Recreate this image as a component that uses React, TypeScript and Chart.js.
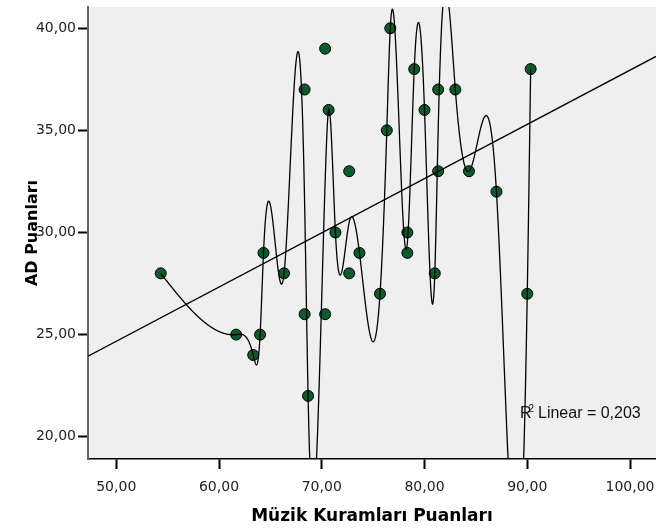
import React, { useEffect, useRef } from "react";
import { Chart, registerables } from "chart.js";

Chart.register(...registerables);

// Data (Müzik Kuramları Puanları vs AD Puanları)
const muzikScores = [
  54.33, 61.67, 63.33, 64.0, 64.33, 66.33, 68.33, 68.33, 68.67, 70.33, 70.33,
  70.67, 71.33, 72.67, 72.67, 73.67, 75.67, 76.33, 76.67, 78.33, 78.33, 79.0,
  80.0, 81.0, 81.33, 81.33, 83.0, 84.33, 87.0, 90.0, 90.33,
];
const adScores = [
  28, 25, 24, 25, 29, 28, 37, 26, 22, 39, 26, 36, 30, 33, 28, 29, 27, 35, 40,
  30, 29, 38, 36, 28, 37, 33, 37, 33, 32, 27, 38,
];
const xTickValues = [50, 60, 70, 80, 90, 100];
const yTickValues = [20, 25, 30, 35, 40];
const xRange = [47.25, 102.53];
const yRange = [18.91, 41.04];
const xTitle = "Müzik Kuramları Puanları";
const yTitle = "AD Puanları";
const r2Value = "0,203";

const fmt = (v: number) => Number(v).toFixed(2).replace(".", ",");

function buildSpline() {
  // group duplicate x values (mean y), then natural cubic spline
  const map = new Map<number, number[]>();
  muzikScores.forEach((x, i) => {
    if (!map.has(x)) map.set(x, []);
    map.get(x)!.push(adScores[i]);
  });
  const xs = Array.from(map.keys()).sort((a, b) => a - b);
  const ys = xs.map((x) => {
    const arr = map.get(x)!;
    return arr.reduce((s, v) => s + v, 0) / arr.length;
  });
  const n = xs.length;
  const h: number[] = [];
  for (let i = 0; i < n - 1; i++) h.push(xs[i + 1] - xs[i]);
  const a: number[] = new Array(n).fill(0);
  const b: number[] = new Array(n).fill(1);
  const c: number[] = new Array(n).fill(0);
  const d: number[] = new Array(n).fill(0);
  for (let i = 1; i < n - 1; i++) {
    a[i] = h[i - 1];
    b[i] = 2 * (h[i - 1] + h[i]);
    c[i] = h[i];
    d[i] = 6 * ((ys[i + 1] - ys[i]) / h[i] - (ys[i] - ys[i - 1]) / h[i - 1]);
  }
  const cp = new Array(n).fill(0);
  const dp = new Array(n).fill(0);
  cp[0] = c[0] / b[0];
  dp[0] = d[0] / b[0];
  for (let i = 1; i < n; i++) {
    const m = b[i] - a[i] * cp[i - 1];
    cp[i] = c[i] / m;
    dp[i] = (d[i] - a[i] * dp[i - 1]) / m;
  }
  const M = new Array(n).fill(0);
  M[n - 1] = dp[n - 1];
  for (let i = n - 2; i >= 0; i--) M[i] = dp[i] - cp[i] * M[i + 1];
  const evalAt = (x: number) => {
    let i = 0;
    while (i < n - 2 && x > xs[i + 1]) i++;
    const hi = h[i];
    const A = xs[i + 1] - x;
    const B = x - xs[i];
    return (
      (M[i] * A * A * A) / (6 * hi) +
      (M[i + 1] * B * B * B) / (6 * hi) +
      (ys[i] / hi - (M[i] * hi) / 6) * A +
      (ys[i + 1] / hi - (M[i + 1] * hi) / 6) * B
    );
  };
  return { xs, evalAt };
}

function regression() {
  const n = muzikScores.length;
  const mx = muzikScores.reduce((s, v) => s + v, 0) / n;
  const my = adScores.reduce((s, v) => s + v, 0) / n;
  let sxy = 0;
  let sxx = 0;
  for (let i = 0; i < n; i++) {
    sxy += (muzikScores[i] - mx) * (adScores[i] - my);
    sxx += (muzikScores[i] - mx) ** 2;
  }
  const slope = sxy / sxx;
  return { slope, intercept: my - slope * mx };
}

const plotBgPlugin = {
  id: "plotBg",
  beforeDraw(chart: any) {
    const { ctx, chartArea } = chart;
    ctx.save();
    ctx.fillStyle = "#efefef";
    ctx.fillRect(
      chartArea.left,
      chartArea.top,
      chartArea.right - chartArea.left,
      chartArea.bottom - chartArea.top
    );
    ctx.restore();
  },
};

const fitLinesPlugin = {
  id: "fitLines",
  afterDatasetsDraw(chart: any) {
    const { ctx, chartArea, scales } = chart;
    const xs = scales.x;
    const ys = scales.y;
    ctx.save();
    ctx.beginPath();
    ctx.rect(
      chartArea.left,
      chartArea.top,
      chartArea.right - chartArea.left,
      chartArea.bottom - chartArea.top
    );
    ctx.clip();
    ctx.strokeStyle = "#000";
    ctx.lineWidth = 1.3;

    // linear fit
    const { slope, intercept } = regression();
    ctx.beginPath();
    ctx.moveTo(
      xs.getPixelForValue(xs.min),
      ys.getPixelForValue(intercept + slope * xs.min)
    );
    ctx.lineTo(
      xs.getPixelForValue(xs.max),
      ys.getPixelForValue(intercept + slope * xs.max)
    );
    ctx.stroke();

    // interpolation spline
    const sp = buildSpline();
    const x0 = sp.xs[0];
    const x1 = sp.xs[sp.xs.length - 1];
    const steps = 3000;
    ctx.beginPath();
    for (let k = 0; k <= steps; k++) {
      const x = x0 + ((x1 - x0) * k) / steps;
      const px = xs.getPixelForValue(x);
      const py = ys.getPixelForValue(sp.evalAt(x));
      if (k === 0) ctx.moveTo(px, py);
      else ctx.lineTo(px, py);
    }
    ctx.stroke();
    ctx.restore();

    // R² label
    ctx.save();
    ctx.fillStyle = "#111";
    ctx.textBaseline = "alphabetic";
    const tx = chartArea.right - 136;
    const ty = chartArea.bottom - 41;
    ctx.font = '16px "Liberation Sans"';
    ctx.fillText("R", tx, ty);
    const rw = ctx.measureText("R").width;
    ctx.font = '10px "Liberation Sans"';
    ctx.fillText("2", tx + rw - 3, ty - 6);
    ctx.font = '16px "Liberation Sans"';
    ctx.fillText(" Linear = " + r2Value, tx + rw + 2, ty);
    ctx.restore();
  },
};

const zeroPad = (s: any) => {
  s.paddingLeft = 0;
  s.paddingRight = 0;
  s.paddingTop = 0;
  s.paddingBottom = 0;
};

export default function App() {
  const ref = useRef<HTMLCanvasElement | null>(null);
  useEffect(() => {
    if (!ref.current) return;
    const tickFont = { family: "DejaVu Sans", size: 14 };
    const chart = new Chart(ref.current, {
      type: "scatter",
      data: {
        datasets: [
          {
            label: "AD",
            data: muzikScores.map((x, i) => ({ x, y: adScores[i] })),
            backgroundColor: "#0b5b2b",
            borderColor: "#000",
            borderWidth: 1,
            pointRadius: 5.5,
            pointHoverRadius: 5.5,
          },
        ],
      },
      options: {
        responsive: false,
        animation: false,
        events: [],
        layout: {
          autoPadding: false,
          padding: { top: 7, right: 0, left: 0, bottom: 0 },
        },
        plugins: {
          legend: { display: false },
          tooltip: { enabled: false },
        },
        scales: {
          x: {
            type: "linear",
            min: xRange[0],
            max: xRange[1],
            afterBuildTicks: (s: any) => {
              s.ticks = xTickValues.map((v) => ({ value: v }));
            },
            afterFit: (s: any) => {
              s.height = 70;
              zeroPad(s);
            },
            grid: {
              drawOnChartArea: false,
              drawTicks: true,
              tickLength: 10,
              tickWidth: 2,
              tickColor: "#000",
            },
            border: { display: true, color: "#000", width: 1.5 },
            ticks: {
              padding: 10,
              color: "#222",
              font: tickFont,
              maxRotation: 0,
              autoSkip: false,
              callback: (v: any) => fmt(v),
            },
            title: {
              display: true,
              text: xTitle,
              color: "#000",
              font: { family: "DejaVu Sans", size: 17, weight: "bold" },
              padding: { top: 0, bottom: 2 },
            },
          },
          y: {
            type: "linear",
            min: yRange[0],
            max: yRange[1],
            afterBuildTicks: (s: any) => {
              s.ticks = yTickValues.map((v) => ({ value: v }));
            },
            afterFit: (s: any) => {
              s.width = 88;
              zeroPad(s);
            },
            grid: {
              drawOnChartArea: false,
              drawTicks: true,
              tickLength: 10,
              tickWidth: 2,
              tickColor: "#000",
            },
            border: { display: true, color: "#666", width: 2 },
            ticks: {
              padding: 2,
              color: "#222",
              font: tickFont,
              callback: (v: any) => fmt(v),
            },
            title: {
              display: true,
              text: yTitle,
              color: "#000",
              font: { family: "DejaVu Sans", size: 16, weight: "bold" },
              padding: { top: 23, bottom: 0 },
            },
          },
        },
      },
      plugins: [plotBgPlugin, fitLinesPlugin],
    } as any);
    return () => chart.destroy();
  }, []);

  return (
    <div
      style={{
        position: "fixed",
        left: 0,
        top: 0,
        width: 656,
        height: 529,
        background: "#fff",
      }}
    >
      <canvas
        ref={ref}
        width={656}
        height={529}
        style={{ display: "block", width: 656, height: 529 }}
      />
    </div>
  );
}
